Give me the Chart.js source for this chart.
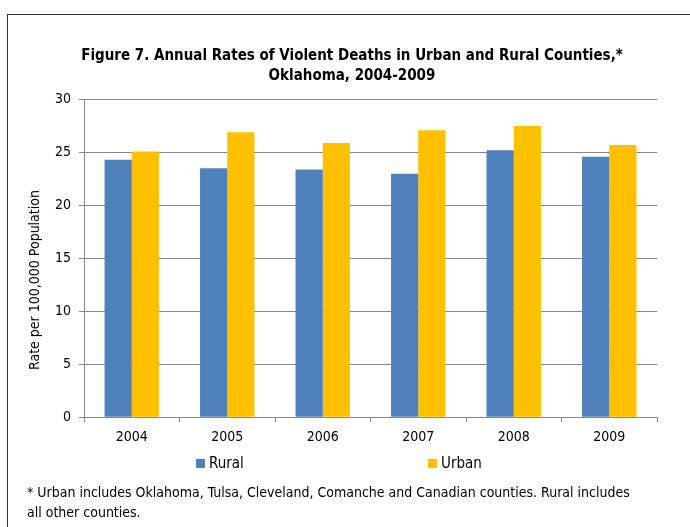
<!DOCTYPE html>
<html>
<head>
<meta charset="utf-8">
<script src="https://cdn.jsdelivr.net/npm/chart.js@4/dist/chart.umd.min.js"></script>
<style>
  body { margin: 0; background: #fff; font-family: "Liberation Sans Narrow", "DejaVu Sans Condensed", sans-serif; }
  #wrap { position: relative; width: 690px; height: 527px; overflow: hidden; }
  #frame { position: absolute; left: 7px; top: 14px; width: 700px; height: 600px; border-left: 1.5px solid #333; border-top: 1.5px solid #333; }
  #chart { position: absolute; left: 0; top: 0; }
  #ytitle { position: absolute; left: 34px; top: 280px; transform: translate(-50%, -50%) rotate(-90deg); white-space: nowrap; font-size: 14px; color: #000; }
  .leg { position: absolute; top: 454px; font-size: 15px; color: #000; }
  .leg span { display: inline-block; width: 9px; height: 9px; margin-right: 4px; }
  #note { position: absolute; left: 27px; top: 482px; width: 610px; font-size: 14px; line-height: 20px; color: #000; }
</style>
</head>
<body>
<div id="wrap">
  <div id="frame"></div>
  <canvas id="chart" width="690" height="527"></canvas>
  <div id="ytitle">Rate per 100,000 Population</div>
  <div id="legend"></div>
  <div id="note">* Urban includes Oklahoma, Tulsa, Cleveland, Comanche and Canadian counties. Rural includes all other counties.</div>
</div>
<script>
var years = ["2004", "2005", "2006", "2007", "2008", "2009"];
var rural = [24.3, 23.5, 23.4, 23.0, 25.2, 24.6];
var urban = [25.1, 26.9, 25.9, 27.1, 27.5, 25.7];
var seriesNames = ["Rural", "Urban"];
var seriesColors = ["#4F81BD", "#FFC000"];

var font = "'Liberation Sans Narrow', 'DejaVu Sans Condensed', sans-serif";

// legend built in html so the two items can sit far apart like the original
var legendX = [196, 428];
var legend = document.getElementById("legend");
seriesNames.forEach(function (name, i) {
  var d = document.createElement("div");
  d.className = "leg";
  d.style.left = legendX[i] + "px";
  d.innerHTML = '<span style="background:' + seriesColors[i] + '"></span>' + name;
  legend.appendChild(d);
});

const ctx = document.getElementById("chart");

new Chart(ctx, {
  type: "bar",
  data: {
    labels: years,
    datasets: [
      {
        label: seriesNames[0],
        data: rural,
        backgroundColor: seriesColors[0],
        categoryPercentage: 0.57,
        barPercentage: 1,
      },
      {
        label: seriesNames[1],
        data: urban,
        backgroundColor: seriesColors[1],
        categoryPercentage: 0.57,
        barPercentage: 1,
      },
    ],
  },
  options: {
    responsive: false,
    animation: false,
    layout: {
      padding: { left: 47, right: 33, top: 46, bottom: 74 },
    },
    plugins: {
      legend: { display: false },
      tooltip: { enabled: false },
      title: {
        display: true,
        text: [
          "Figure 7. Annual Rates of Violent Deaths in Urban and Rural Counties,*",
          "Oklahoma, 2004-2009",
        ],
        color: "#000",
        font: { family: font, size: 15, weight: "bold", lineHeight: 1.35 },
        padding: { top: 0, bottom: 13 },
      },
    },
    scales: {
      x: {
        grid: {
          display: true,
          drawOnChartArea: false,
          offset: true,
          tickLength: 5,
          color: "#888",
        },
        border: { color: "#888" },
        ticks: { color: "#000", padding: 7, font: { family: font, size: 14 } },
      },
      y: {
        min: 0,
        max: 30,
        ticks: { stepSize: 5, color: "#000", padding: 8, font: { family: font, size: 14 } },
        grid: { color: "#888", tickLength: 5 },
        border: { color: "#888" },
      },
    },
  },
});
</script>
</body>
</html>
